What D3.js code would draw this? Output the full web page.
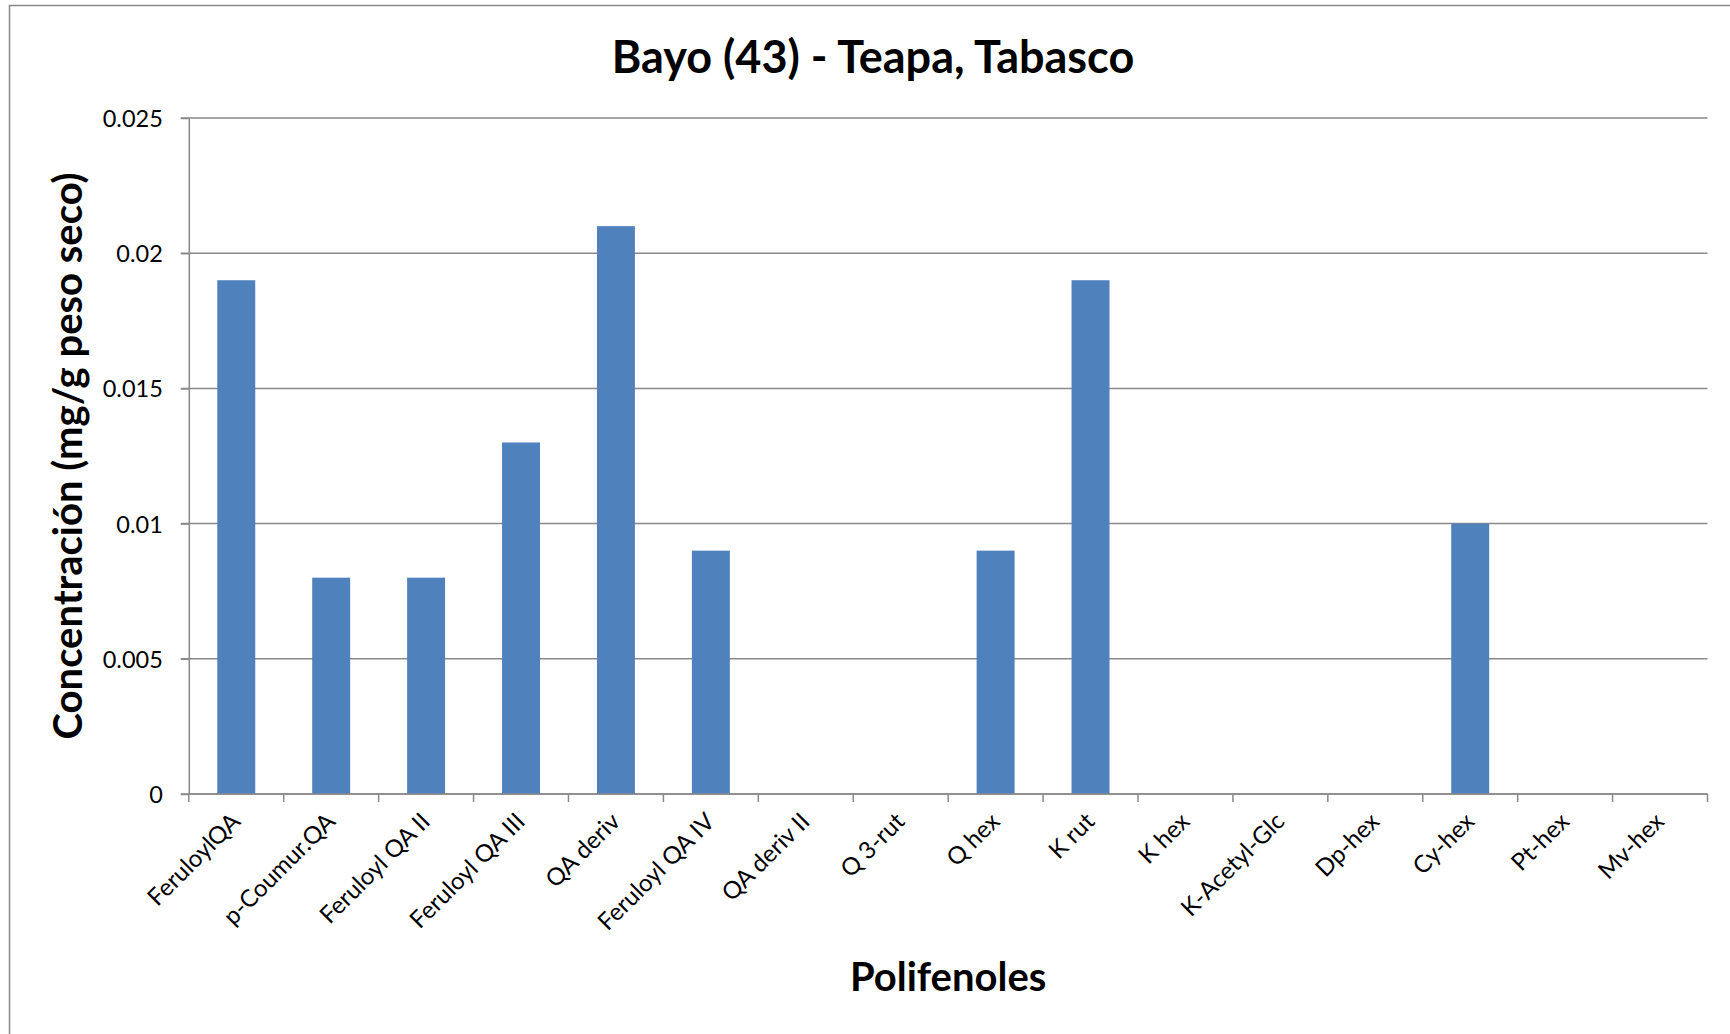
<!DOCTYPE html>
<html>
<head>
<meta charset="utf-8">
<script src="https://cdn.jsdelivr.net/npm/d3@7"></script>
<style>
  body { margin: 0; background: #fff; }
  svg text { font-family: Lato, "Open Sans", sans-serif; fill: #000; }
</style>
</head>
<body>
<div id="chart"></div>
<script>
// data
var categories = ["FeruloylQA", "p-Coumur.QA", "Feruloyl QA II", "Feruloyl QA III", "QA deriv",
  "Feruloyl QA IV", "QA deriv II", "Q 3-rut", "Q hex", "K rut", "K hex", "K-Acetyl-Glc",
  "Dp-hex", "Cy-hex", "Pt-hex", "Mv-hex"];
var values = [0.019, 0.008, 0.008, 0.013, 0.021, 0.009, 0, 0, 0.009, 0.019, 0, 0, 0, 0.010, 0, 0];
var yTicks = [0, 0.005, 0.01, 0.015, 0.02, 0.025];
var yTickLabels = ["0", "0.005", "0.01", "0.015", "0.02", "0.025"];

var title = "Bayo (43) - Teapa, Tabasco",
    xTitle = "Polifenoles",
    yTitle = "Concentración (mg/g peso seco)";

var width = 1730,
    height = 1034;
var margin = {left: 188.8, right: 1707.5, top: 118, bottom: 794};
var gridColor = "#898989",
    barColor = "#4f81bd";

var svg = d3.select("#chart")
  .append("svg")
  .attr("width", width)
  .attr("height", height);

// outer chart border (runs past the right / bottom edges)
svg.append("rect")
  .attr("x", 9.5).attr("y", 5.5)
  .attr("width", width + 20).attr("height", height + 20)
  .attr("fill", "none")
  .attr("stroke", gridColor)
  .attr("stroke-width", 1.5);

var x = d3.scaleBand()
  .domain(categories)
  .range([margin.left, margin.right])
  .paddingInner(0.6)
  .paddingOuter(0.3);

var y = d3.scaleLinear()
  .domain([0, 0.025])
  .range([margin.bottom, margin.top]);

// gridlines
svg.append("g")
  .selectAll("line")
  .data(yTicks)
  .enter().append("line")
  .attr("x1", margin.left - 8)
  .attr("x2", margin.right)
  .attr("y1", function(d){ return y(d); })
  .attr("y2", function(d){ return y(d); })
  .attr("stroke", gridColor)
  .attr("stroke-width", 1.5);

// y axis
var yAxis = d3.axisLeft(y)
  .tickValues(yTicks)
  .tickFormat(function(d, i){ return yTickLabels[i]; })
  .tickSize(8)
  .tickPadding(18)
  .tickSizeOuter(0);

var yG = svg.append("g")
  .attr("transform", "translate(" + margin.left + ",0)")
  .call(yAxis);
yG.selectAll("path, line").attr("stroke", gridColor).attr("stroke-width", 1.5);
yG.selectAll("text")
  .style("font-size", "23.5px")
  .attr("dy", "0.36em");

// bars
svg.append("g")
  .selectAll("rect")
  .data(values)
  .enter().append("rect")
  .attr("x", function(d, i){ return x(categories[i]); })
  .attr("width", x.bandwidth())
  .attr("y", function(d){ return y(d); })
  .attr("height", function(d){ return y(0) - y(d); })
  .attr("fill", barColor);

// x axis line and boundary ticks
var step = x.step();
var bounds = categories.map(function(c){ return x(c) - step * 0.3; });
bounds.push(margin.right);

svg.append("line")
  .attr("x1", margin.left).attr("x2", margin.right)
  .attr("y1", y(0)).attr("y2", y(0))
  .attr("stroke", gridColor).attr("stroke-width", 1.5);

svg.append("g")
  .selectAll("line")
  .data(bounds)
  .enter().append("line")
  .attr("x1", function(d){ return d; })
  .attr("x2", function(d){ return d; })
  .attr("y1", y(0)).attr("y2", y(0) + 8)
  .attr("stroke", gridColor).attr("stroke-width", 1.5);

// rotated category labels
svg.append("g")
  .selectAll("text")
  .data(categories)
  .enter().append("text")
  .attr("transform", function(d){
    var cx = x(d) + x.bandwidth() / 2 + 5.5;
    return "translate(" + cx + "," + (y(0) + 29) + ") rotate(-45)";
  })
  .attr("text-anchor", "end")
  .style("font-size", "24px")
  .text(function(d){ return d; });

// titles
svg.append("text")
  .attr("x", 873)
  .attr("y", 73)
  .attr("text-anchor", "middle")
  .style("font-size", "45px")
  .style("font-weight", "bold")
  .text(title);

svg.append("text")
  .attr("x", (margin.left + margin.right) / 2)
  .attr("y", 991)
  .attr("text-anchor", "middle")
  .style("font-size", "40px")
  .style("font-weight", "bold")
  .text(xTitle);

svg.append("text")
  .attr("transform", "translate(82," + ((margin.top + margin.bottom) / 2) + ") rotate(-90)")
  .attr("text-anchor", "middle")
  .style("font-size", "40px")
  .style("font-weight", "bold")
  .text(yTitle);
</script>
</body>
</html>
